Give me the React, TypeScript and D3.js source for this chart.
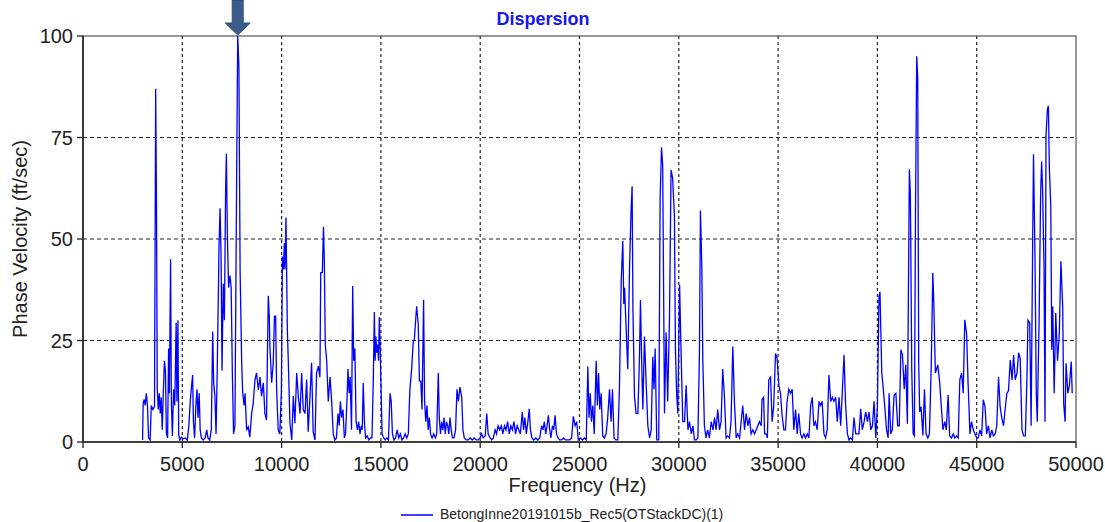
import React from "react";
import * as d3 from "d3";

// Frequency (Hz), phase velocity (ft/sec) pairs, split by band
const band3to10k: [number, number][] = [
  [3000,0.5],[3030,9.5],[3080,10.5],[3130,9],[3190,12],[3250,8.7],[3300,1],[3380,0.5],[3440,9],[3520,8],[3600,8.7],[3660,87],[3700,59],[3740,13],[3790,8],[3840,12],[3890,7],[3940,11],[3990,3],[4050,13],[4100,20],[4150,17.6],[4200,2],[4260,1],[4310,23],[4350,12],[4410,45],[4450,10],[4500,1.5],[4560,13],[4620,9],[4690,29.4],[4730,10],[4780,30],[4820,2],[4870,0.5],[4950,1.2],[5050,0.8],[5150,1],[5250,0.5],[5330,4],[5400,10],[5450,13],[5520,16.5],[5560,5],[5620,1],[5680,8.6],[5740,13],[5790,6],[5850,12],[5900,3],[5960,1],[6050,0.5],[6150,1],[6230,3],[6290,1],[6380,0.5],[6460,3],[6530,27.2],[6580,14.5],[6640,11.5],[6700,2],[6760,18],[6850,48.2],[6900,57.6],[6950,47],[7000,17.6],[7060,39],[7120,30],[7180,61.8],[7220,71],[7270,51],[7330,38],[7400,41],[7460,38],[7520,17],[7580,2],[7650,4],[7740,68],[7790,100],[7850,92.6],[7910,42.5],[7990,19.5],[8040,12.2],[8110,9],[8160,12],[8240,2.9],[8320,3.7],[8400,1.2],[8490,7],[8570,9.5],[8660,15.4],[8740,17],[8830,12.8],[8910,16],[8990,11.3],[9080,14.6],[9160,7],[9240,5.4],[9330,36],[9380,31],[9410,23.5],[9500,14.6],[9580,19.5],[9640,31],[9700,31],[9750,12.8],[9830,2.9],[9910,2],[9990,12.8],
];

const band10to20k: [number, number][] = [
  [10040,45.7],[10090,42.5],[10140,49],[10170,42.5],[10220,55.3],[10290,27.7],[10340,19.5],[10420,4.6],[10510,0.5],[10590,11.3],[10670,4.6],[10760,17],[10840,11.3],[10930,7],[11010,17],[11090,8],[11180,7],[11260,15.4],[11340,2.5],[11430,11.3],[11510,19.5],[11590,2.5],[11680,0.5],[11760,17],[11850,18.7],[11930,16],[11970,41.7],[12050,41.7],[12110,53],[12150,45],[12200,24],[12270,20],[12350,10],[12440,16],[12520,10],[12600,2],[12680,0.5],[12760,1],[12840,7],[12900,4],[12960,10],[13020,6],[13090,8],[13160,1],[13220,2],[13290,10],[13340,18],[13400,12],[13450,16],[13520,3],[13580,38.4],[13630,20],[13690,23],[13750,5],[13820,3],[13880,5],[13950,2],[14010,4],[14060,3],[14110,14.5],[14170,5],[14230,1],[14310,1.5],[14390,0.5],[14470,1],[14550,1],[14620,16],[14670,32],[14710,20],[14750,26],[14790,22],[14840,24],[14880,20],[14920,30.7],[14960,24],[15000,14.8],[15060,2],[15140,1],[15220,0.5],[15300,1],[15380,0.5],[15460,12],[15520,10],[15580,2],[15660,0.5],[15740,1],[15820,3],[15900,1],[15980,2],[16060,0.5],[16140,1],[16220,2],[16300,1],[16380,2],[16460,13],[16550,18],[16630,25],[16680,25],[16750,30],[16800,33.4],[16880,29],[16940,15],[17010,15],[17070,8],[17150,35],[17200,10],[17260,5],[17320,9],[17380,3],[17440,6],[17500,2],[17580,1],[17660,2],[17740,1],[17810,2],[17890,17],[17940,6],[18000,2],[18060,5],[18120,3],[18180,6],[18240,2],[18300,5],[18360,4],[18420,2],[18480,6],[18540,3],[18600,1],[18680,1],[18760,3],[18830,13],[18900,10],[18980,13.5],[19070,11],[19130,3],[19200,1],[19300,0.5],[19400,0.5],[19500,1],[19600,0.5],[19700,1],[19800,0.5],[19900,0.5],[19990,1],
];

const band20to30k: [number, number][] = [
  [20070,2],[20150,1],[20250,1.5],[20330,7],[20400,2],[20500,1],[20580,0.5],[20660,1],[20750,3],[20820,2],[20900,4],[20980,3],[21060,4],[21140,2],[21220,4],[21300,3],[21380,5],[21460,2],[21540,4],[21620,3],[21700,5],[21780,2],[21860,4],[21940,3],[22020,2],[22120,7.4],[22180,3],[22250,6],[22320,2],[22400,5],[22470,8.2],[22530,3],[22600,1],[22700,0.5],[22800,1],[22900,0.5],[23000,1],[23090,4],[23160,3],[23230,5],[23300,2],[23370,4],[23430,6.6],[23500,3],[23560,1],[23640,4],[23700,3],[23770,6.6],[23840,2],[23920,1],[24000,0.5],[24100,0.5],[24200,1],[24300,0.5],[24400,0.5],[24500,0.5],[24600,1],[24690,6.3],[24780,4],[24860,5],[24940,0.5],[25050,1],[25150,0.5],[25250,1],[25340,0.5],[25420,18.6],[25480,6],[25540,12],[25600,5],[25670,9],[25740,2],[25840,20],[25900,9],[25960,17],[26020,8],[26090,12],[26170,1.5],[26250,1],[26340,2],[26420,6],[26510,13],[26590,5],[26660,13],[26740,1],[26830,0.5],[26930,0.5],[27010,13],[27100,39.5],[27180,49.5],[27230,34],[27270,38],[27350,27.7],[27430,18],[27520,43],[27600,57.5],[27650,63],[27690,33],[27770,11],[27850,7],[27940,7],[28020,21],[28070,35],[28130,20],[28190,8],[28270,26],[28360,14],[28440,4],[28530,1],[28610,3],[28690,21],[28750,13],[28810,23],[28890,0.5],[28990,0.5],[29060,60],[29130,72.6],[29190,68],[29280,7],[29360,27],[29440,10],[29530,30],[29610,67],[29690,65],[29780,55.6],[29830,23],[29890,12],[29950,7],
];

const band30to40k: [number, number][] = [
  [30040,38.7],[30120,21],[30200,5],[30290,5],[30370,14],[30460,3],[30540,5],[30630,2],[30710,4],[30790,0.5],[30880,0.5],[30960,1],[31040,22],[31090,57],[31160,43],[31210,20],[31290,4],[31370,1],[31450,3],[31540,1],[31630,5],[31720,3],[31800,6],[31880,3],[31960,8],[32050,3],[32130,5],[32210,18],[32300,11],[32380,1],[32460,1.5],[32550,1],[32630,5],[32720,23.5],[32800,10],[32890,1],[32970,2],[33060,1],[33140,5],[33220,9],[33310,3],[33390,7],[33480,4],[33560,6],[33640,2],[33730,3],[33810,2],[33900,3],[33980,4],[34060,5],[34150,4],[34190,10.4],[34270,11],[34320,2],[34400,2],[34460,1],[34530,15.3],[34620,16],[34700,5],[34780,9],[34870,21.8],[34950,20.6],[35040,14],[35120,12],[35200,6.6],[35290,3],[35370,3],[35450,9.9],[35540,13],[35620,12],[35710,13],[35790,3],[35880,8],[35960,2],[36040,7],[36130,2],[36210,1],[36300,2],[36380,1],[36470,2],[36550,1],[36640,9],[36720,11],[36800,4],[36880,5],[36970,3],[37060,10],[37140,9],[37220,10],[37310,2],[37390,1],[37470,3],[37560,16.5],[37650,10],[37730,11],[37810,10],[37900,11],[37980,5],[38070,11],[38150,4],[38240,13],[38320,21.5],[38400,9],[38490,2],[38570,0.5],[38650,1],[38740,0.5],[38820,6],[38910,2],[38990,2],[39070,2],[39160,8.2],[39240,3],[39330,5],[39410,7.4],[39500,5],[39580,7.4],[39670,3],[39750,4],[39830,10],[39920,1],[40000,9],
];

const band40to50k: [number, number][] = [
  [40080,35.9],[40130,37],[40220,17],[40280,14],[40380,8.2],[40460,3],[40540,1],[40590,12],[40670,2],[40750,3],[40840,11.5],[40930,12],[41020,4],[41100,4],[41180,22.7],[41260,21.6],[41350,13],[41430,19],[41510,4.5],[41610,67.2],[41660,61],[41730,17.8],[41800,2],[41860,1.5],[41920,57.7],[41980,95],[42030,89.8],[42080,19.4],[42130,7.4],[42200,8.7],[42290,1.6],[42370,13],[42450,2],[42540,1],[42620,2],[42710,18.6],[42790,41.6],[42840,34.2],[42920,17],[43040,19],[43130,15],[43220,8.7],[43300,3],[43390,5],[43470,3],[43560,11.6],[43640,1.5],[43730,1],[43820,2],[43900,1],[43990,1.5],[44070,1],[44150,15.3],[44240,17],[44320,12],[44400,30.1],[44490,26.8],[44570,14],[44660,2],[44740,5],[44830,3],[44910,2],[45000,1],[45080,1],[45160,3],[45250,1.5],[45330,10.4],[45420,8.7],[45500,2],[45590,4],[45670,1],[45760,3],[45840,1.5],[45930,2],[46010,4],[46100,16],[46180,8.7],[46260,6],[46350,4],[46430,8],[46520,12],[46600,12.6],[46690,20.2],[46780,15.3],[46860,21.4],[46940,15.3],[47030,17],[47110,22],[47190,20.6],[47280,3],[47360,1.5],[47450,1.5],[47530,15.7],[47580,30],[47670,29.3],[47740,4],[47810,44.9],[47860,70.9],[47930,47.4],[48000,12],[48050,5],[48140,29.3],[48220,61.4],[48270,69.1],[48320,61.8],[48390,43],[48440,5],[48490,75.4],[48560,82],[48610,82.8],[48660,67.2],[48730,58.1],[48780,22.7],[48830,33.4],[48900,12],[48980,31.8],[49070,20],[49160,26.8],[49240,44.5],[49330,33.4],[49380,9.5],[49450,5],[49500,19.4],[49590,12],[49670,14],[49760,19.8],[49810,12],
];

const xTicks = [0, 5000, 10000, 15000, 20000, 25000, 30000, 35000, 40000, 45000, 50000];
const yTicks = [0, 25, 50, 75, 100];
const titleText = "Dispersion";
const xLabel = "Frequency (Hz)";
const yLabel = "Phase Velocity (ft/sec)";
const seriesName = "BetongInne20191015b_Rec5(OTStackDC)(1)";

const W = 1105;
const H = 522;
const FONT = "'Liberation Sans', Arial, sans-serif";

export default function App() {
  const spectrum = [...band3to10k, ...band10to20k, ...band20to30k, ...band30to40k, ...band40to50k];
  const x = d3.scaleLinear().domain([0, 50000]).range([83, 1076]);
  const y = d3.scaleLinear().domain([0, 100]).range([442, 36]);
  const line = d3
    .line<[number, number]>()
    .x((d) => x(d[0]))
    .y((d) => y(d[1]))
    .curve(d3.curveLinear);

  const peak = spectrum.reduce((a, b) => (b[1] > a[1] ? b : a));
  const ax = x(peak[0]);
  const arrowPath = `M${ax - 5.5},0 L${ax + 5.5},0 L${ax + 5.5},23 L${ax + 12.5},23 L${ax},${y(peak[1]) - 1} L${ax - 12.5},23 L${ax - 5.5},23 Z`;

  const [x0, x1] = x.range();
  const [yb, yt] = y.range();

  return (
    <svg
      width={W}
      height={H}
      style={{ position: "absolute", left: 0, top: 0, background: "#fff" }}
      fontFamily={FONT}
    >
      <rect x={0} y={0} width={W} height={H} fill="#fff" />
      {/* grid */}
      {xTicks.slice(1, -1).map((t) => (
        <line key={"gx" + t} x1={x(t)} x2={x(t)} y1={yt} y2={yb} stroke="#222" strokeWidth={1.2} strokeDasharray="3,3" />
      ))}
      {yTicks.slice(1, -1).map((t) => (
        <line key={"gy" + t} x1={x0} x2={x1} y1={y(t)} y2={y(t)} stroke="#222" strokeWidth={1.2} strokeDasharray="4,3" />
      ))}
      {/* series */}
      <path d={line(spectrum) || ""} fill="none" stroke="#0000ff" strokeWidth={1.3} strokeLinejoin="miter" />
      {/* frame */}
      <rect x={x0} y={yt} width={x1 - x0} height={yb - yt} fill="none" stroke="#333" strokeWidth={1} />
      <line x1={x0} x2={x0} y1={yt} y2={yb} stroke="#222" strokeWidth={1.6} />
      <line x1={x0} x2={x1} y1={yb} y2={yb} stroke="#222" strokeWidth={1.6} />
      {/* y ticks */}
      {yTicks.map((t) => (
        <g key={"ty" + t}>
          <line x1={x0 - 6} x2={x0} y1={y(t)} y2={y(t)} stroke="#222" strokeWidth={1.3} />
          <text x={73} y={y(t)} dy="0.35em" textAnchor="end" fontSize={20} fill="#222">
            {t}
          </text>
        </g>
      ))}
      {/* x ticks */}
      {xTicks.map((t) => (
        <g key={"tx" + t}>
          <line x1={x(t)} x2={x(t)} y1={yb} y2={yb + 6} stroke="#222" strokeWidth={1.3} />
          <text x={x(t)} y={471} textAnchor="middle" fontSize={20} fill="#222">
            {t}
          </text>
        </g>
      ))}
      {/* axis labels */}
      <text x={(x0 + x1) / 2 - 2} y={492} textAnchor="middle" fontSize={20} fill="#222">
        {xLabel}
      </text>
      <text transform={`translate(27,${(yt + yb) / 2}) rotate(-90)`} textAnchor="middle" fontSize={20} fill="#222">
        {yLabel}
      </text>
      {/* title */}
      <text x={543} y={25} textAnchor="middle" fontSize={18} fontWeight="bold" fill="#1515ee">
        {titleText}
      </text>
      {/* legend */}
      <line x1={401} x2={433} y1={515} y2={515} stroke="#0000ff" strokeWidth={1.5} />
      <text x={440} y={519} fontSize={14} fill="#222">
        {seriesName}
      </text>
      {/* arrow marker on the highest peak */}
      <path d={arrowPath} fill="#3b5b8b" stroke="#2f4c78" strokeWidth={1} />
    </svg>
  );
}
